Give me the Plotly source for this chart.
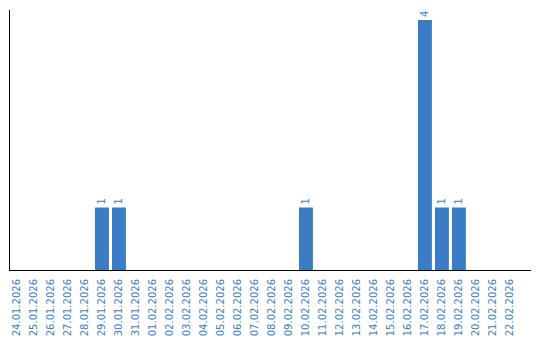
import plotly.graph_objects as go
import datetime as dt

start = dt.date(2026, 1, 24)
dates = [(start + dt.timedelta(days=i)).strftime("%d.%m.%Y") for i in range(30)]
counts = {"29.01.2026": 1, "30.01.2026": 1, "10.02.2026": 1,
          "17.02.2026": 4, "18.02.2026": 1, "19.02.2026": 1}
values = [counts.get(d, 0) for d in dates]
labels = [str(v) if v else "" for v in values]

blue = "#3b7dc4"
fig = go.Figure(go.Bar(
    x=dates, y=values, text=labels, textposition="outside", textangle=-90,
    textfont=dict(family="DejaVu Sans", size=10, color=blue),
    marker=dict(color=blue, line=dict(width=0)), width=0.82, cliponaxis=False,
))
fig.update_layout(
    width=540, height=340, margin=dict(l=10, r=9, t=10, b=70),
    paper_bgcolor="white", plot_bgcolor="white", showlegend=False,
    font=dict(family="DejaVu Sans", size=10, color=blue),
)
fig.update_xaxes(type="category", range=[-0.41, 30.24], showline=True, linecolor="black",
                 linewidth=1, showgrid=False, tickangle=-90, ticks="outside",
                 ticklen=4, tickcolor="rgba(0,0,0,0)", automargin=False,
                 tickfont=dict(family="DejaVu Sans", size=10, color=blue))
fig.update_yaxes(range=[0, 4.16], showline=True, linecolor="black", linewidth=1,
                 showgrid=False, showticklabels=False, zeroline=False, automargin=False)
fig.write_html("out.html")
